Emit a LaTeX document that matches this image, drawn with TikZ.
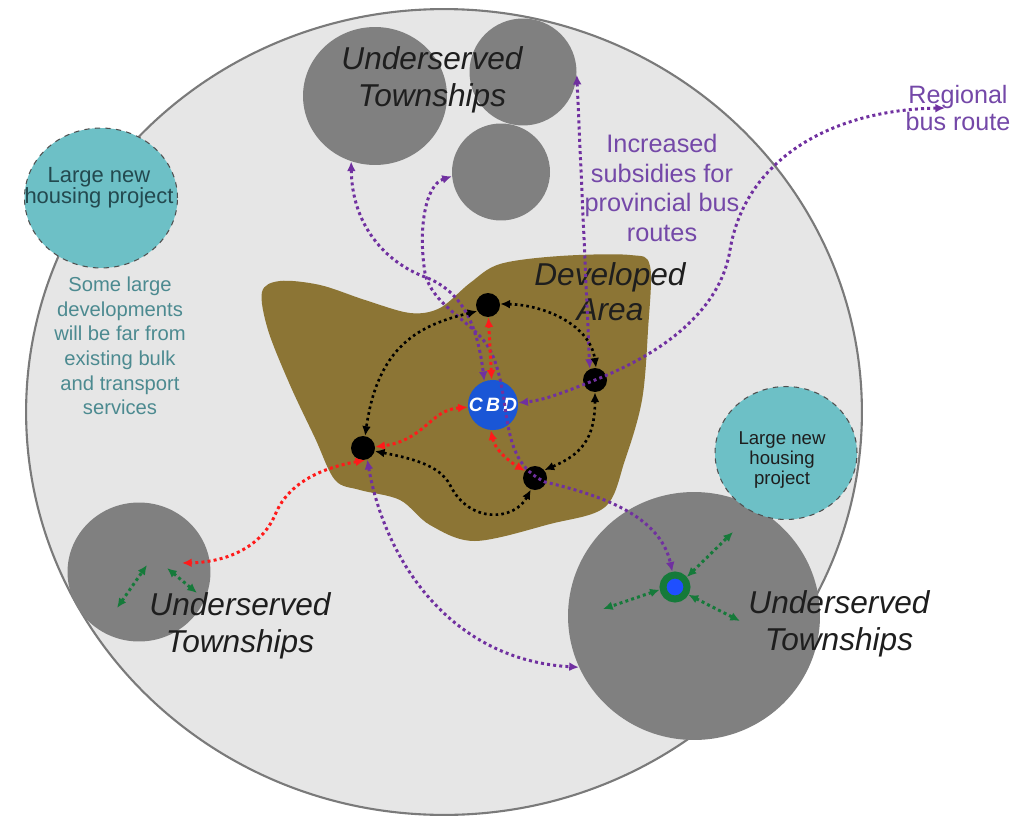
\documentclass[tikz,border=0pt]{standalone}
\usepackage{fontspec}
\setmainfont{Liberation Sans}
\usetikzlibrary{arrows.meta,shapes.geometric}
\definecolor{bgc}{HTML}{E6E6E6}
\definecolor{bordc}{HTML}{7A7A7A}
\definecolor{townc}{HTML}{808080}
\definecolor{brownc}{HTML}{8C7535}
\definecolor{tealc}{HTML}{6DC0C6}
\definecolor{tealbord}{HTML}{505050}
\definecolor{tealtext}{HTML}{4C8A90}
\definecolor{darkteal}{HTML}{23494F}
\definecolor{purpc}{HTML}{7030A0}
\definecolor{purptext}{HTML}{7448A8}
\definecolor{greenc}{HTML}{157A3A}
\definecolor{cbdc}{HTML}{1A56D6}
\definecolor{ringblue}{HTML}{1F4FFF}
\definecolor{redc}{HTML}{FF1A1A}
\definecolor{twtext}{HTML}{1E1E1E}
\begin{document}
\begin{tikzpicture}[x=0.02cm,y=-0.02cm,
  >={Latex[length=5.5pt,width=5pt]},
  town/.style={ellipse,fill=townc,draw=none,inner sep=0pt},
  housing/.style={ellipse,fill=tealc,draw=tealbord,dashed,line width=0.6pt,inner sep=0pt},
  hub/.style={circle,fill=black,minimum size=0.48cm,inner sep=0pt},
  twlabel/.style={align=center,text=twtext,font=\fontsize{18}{21}\selectfont\itshape},
  purp/.style={draw=purpc,line width=1.7pt,dash pattern=on 1.7pt off 1.8pt,<->},
  redl/.style={draw=redc,line width=1.7pt,dash pattern=on 1.7pt off 1.8pt,<->},
  blk/.style={draw=black,line width=1.5pt,dash pattern=on 1.5pt off 1.8pt,<->},
  grn/.style={draw=greenc,line width=1.7pt,dash pattern=on 1.7pt off 1.8pt,<->}]
\useasboundingbox (0,0) rectangle (1023,824);
\fill[white] (0,0) rectangle (1023,824);

% region
\node[ellipse,fill=bgc,draw=bordc,line width=1.2pt,minimum width=16.72cm,minimum height=16.12cm,inner sep=0pt] (region) at (444,412) {};

% townships
\node[town,minimum width=2.88cm,minimum height=2.76cm] (tl) at (375,96) {};
\node[town,minimum width=2.14cm,minimum height=2.14cm] (tr) at (523,72) {};
\node[town,minimum width=1.96cm,minimum height=1.94cm] (mid) at (501,172) {};
\node[town,minimum width=2.86cm,minimum height=2.78cm] (bl) at (139,572) {};
\node[town,minimum width=5.04cm,minimum height=4.96cm] (br) at (694,616) {};

% housing projects
\node[housing,minimum width=3.06cm,minimum height=2.8cm] (hl) at (101,198) {};
\node[housing,minimum width=2.84cm,minimum height=2.66cm] (hr) at (786,453) {};

% developed area
\fill[brownc] plot[smooth cycle,tension=0.55] coordinates {
 (262,292) (280,281) (320,285) (365,300) (410,313) (440,308) (470,283)
 (500,264) (560,256) (630,255) (650,266) (648,330) (642,400) (625,460)
 (605,507) (550,524) (475,541) (430,525) (400,500) (360,490) (335,480)
 (315,438) (290,385) (268,330)};

% nodes
\node[circle,fill=cbdc,minimum size=1.0cm,inner sep=0pt,text=white,font=\fontsize{11}{11}\selectfont\bfseries\itshape] (cbd) at (493,405) {C\,B\,D};
\node[hub] (tn) at (488,305) {};
\node[hub] (rn) at (595,380) {};
\node[hub] (ln) at (363,448) {};
\node[hub] (bn) at (535,478) {};
\node[circle,fill=ringblue,draw=greenc,line width=4pt,minimum size=0.48cm,inner sep=0pt] (ring) at (675,587) {};

\coordinate (reg) at (945,108);
\coordinate (redend) at (182,563);
\coordinate (g1) at (733,532);
\coordinate (g2) at (603,609);
\coordinate (g3) at (740,621);
\coordinate (ga1) at (117,608);
\coordinate (ga2) at (147,565);
\coordinate (gb1) at (167,568);
\coordinate (gb2) at (197,593);

% labels
\node[twlabel] (tltext) at (432,80) {Underserved\\Townships};
\node[twlabel] (bltext) at (240,626) {Underserved\\Townships};
\node[twlabel] (brtext) at (839,624) {Underserved\\Townships};
\node[align=center,text=twtext,font=\fontsize{18}{20}\selectfont\itshape] (devtext) at (610,292) {Developed\\Area};
\node[align=center,text=purptext,font=\fontsize{14.4}{16.8}\selectfont] (subs) at (662,188) {Increased\\subsidies for\\provincial bus\\routes};
\node[align=center,text=purptext,font=\fontsize{14.3}{15.5}\selectfont] (regtext) at (958,108) {Regional\\bus route};
\node[align=center,text=darkteal,font=\fontsize{12.5}{12}\selectfont] (hltext) at (99,188) {Large new\\housing project};
\node[align=center,text=tealtext,font=\fontsize{11.5}{14}\selectfont] (farnote) at (120,346) {Some large\\developments\\will be far from\\existing bulk\\and transport\\services};
\node[align=center,text=twtext,font=\fontsize{10.6}{11.4}\selectfont] (hrtext) at (782,460) {Large new\\housing\\project};

% purple bus routes
\draw[purp] (tl.250) .. controls (352,225) and (385,262) .. (425,277) .. controls (465,292) and (478,330) .. (cbd.110);
\draw[purp] (mid.185) .. controls (425,185) and (418,230) .. (425,273) .. controls (432,305) and (470,320) .. (487,345) .. controls (500,365) and (503,395) .. (507,420) .. controls (512,450) and (520,470) .. (545,482) .. controls (600,495) and (660,515) .. (ring.100);
\draw[purp] (tr.-3) -- (rn.115);
\draw[purp] (reg) .. controls (830,110) and (745,160) .. (730,250) .. controls (722,300) and (680,345) .. (600,378) .. controls (565,392) and (545,400) .. (cbd.5);
\draw[purp] (ln.-70) .. controls (385,560) and (450,660) .. (br.204);

% red links
\draw[redl] (cbd.93) -- (tn.-88);
\draw[redl] (cbd.185) .. controls (430,410) and (425,440) .. (ln.5);
\draw[redl] (cbd.-95) .. controls (495,450) and (510,462) .. (bn.145);
\draw[redl] (ln.-80) .. controls (310,470) and (285,490) .. (275,515) .. controls (262,545) and (230,562) .. (redend);

% black links
\draw[blk] (tn.210) .. controls (420,325) and (378,345) .. (ln.80);
\draw[blk] (tn.5) .. controls (545,305) and (590,325) .. (rn.85);
\draw[blk] (rn.-90) .. controls (595,440) and (580,455) .. (bn.40);
\draw[blk] (bn.-110) .. controls (515,520) and (470,525) .. (450,485) .. controls (440,465) and (410,458) .. (ln.-15);

% green local links
\draw[grn] (ring.40) -- (g1);
\draw[grn] (ring.190) -- (g2);
\draw[grn] (ring.-30) -- (g3);
\draw[grn] (ga1) -- (ga2);
\draw[grn] (gb1) -- (gb2);
\end{tikzpicture}
\end{document}
